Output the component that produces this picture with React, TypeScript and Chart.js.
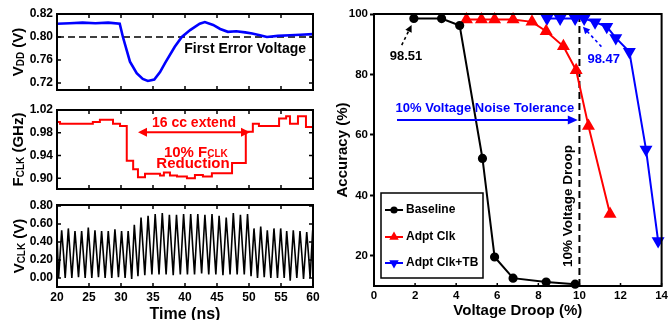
import React, { useEffect, useRef } from 'react';
import { Chart, registerables } from 'chart.js';
Chart.register(...registerables);

const W = 671;
const H = 320;
const FONT = '"Liberation Sans", Arial, Helvetica, sans-serif';
const BLUE = '#0000ff';
const RED = '#ff0000';
const BLACK = '#000000';

// ---------------- Left panel (time domain) ----------------
const timeTicks = [20, 25, 30, 35, 40, 45, 50, 55, 60];

// V_DD (V)
const vddTime = [20, 22, 24, 26, 28, 29.8, 30.3, 31.4, 32.45, 33.4, 34.2, 35.2, 36.1, 36.9, 38.4, 39.5, 40.8, 42.3, 43.1, 44.4, 45.5, 46.7, 48, 49.4, 50.5, 51.7, 52.8, 54.5, 56.4, 58, 60];
const vddVolt = [0.823, 0.824, 0.825, 0.824, 0.825, 0.823, 0.8, 0.757, 0.737, 0.727, 0.7235, 0.726, 0.739, 0.755, 0.783, 0.8, 0.812, 0.823, 0.826, 0.821, 0.814, 0.809, 0.81, 0.808, 0.806, 0.803, 0.8, 0.802, 0.803, 0.804, 0.805];
const firstErrorVoltage = 0.8;
const vddTickValues = [0.72, 0.76, 0.8, 0.84];
const vddTickLabels = ['0.72', '0.76', '0.80', '0.82'];

// F_CLK (GHz), step data
const fclkTime = [20, 20.47, 25.6, 26.7, 28.75, 29.85, 30.9, 31.9, 32.65, 33.75, 36.1, 36.7, 37.65, 38.75, 40.3, 41.55, 42.8, 44.2, 47.35, 49.5, 50.6, 51.55, 54.7, 55.8, 56.4, 57.65, 58.9, 59.7, 60];
const fclkGHz = [1.002, 0.999, 0.996, 0.999, 1.003, 0.996, 0.992, 0.931, 0.916, 0.902, 0.908, 0.905, 0.91, 0.905, 0.903, 0.9, 0.906, 0.903, 0.909, 0.927, 0.982, 0.996, 0.992, 1.005, 1.009, 0.996, 1.009, 0.99, 0.99];
const fclkTickValues = [0.9, 0.94, 0.98, 1.02];
const fclkTickLabels = ['0.90', '0.94', '0.98', '1.02'];

// V_CLK (V) waveform: peak / shoulder / trough per cycle
const vclkTime = [
  20.0, 20.25,
  20.73, 21.03, 21.28, 21.77, 22.07, 22.32, 22.81, 23.11, 23.36, 23.85, 24.15, 24.4,
  24.89, 25.19, 25.44, 25.93, 26.23, 26.48, 26.97, 27.27, 27.52, 28.01, 28.31, 28.56,
  29.05, 29.35, 29.6, 30.09, 30.39, 30.64, 31.12, 31.42, 31.67, 32.08, 32.38, 32.65,
  33.13, 33.45, 33.72, 34.23, 34.55, 34.83, 35.34, 35.66, 35.94, 36.45, 36.77, 37.05,
  37.56, 37.88, 38.16, 38.67, 38.99, 39.27, 39.78, 40.1, 40.38, 40.89, 41.21, 41.49,
  42.0, 42.32, 42.6, 43.11, 43.43, 43.71, 44.22, 44.54, 44.82, 45.33, 45.65, 45.93,
  46.44, 46.76, 47.04, 47.55, 47.87, 48.15, 48.66, 48.98, 49.26, 49.77, 50.09, 50.32,
  50.78, 51.08, 51.33, 51.83, 52.13, 52.38, 52.86, 53.16, 53.41, 53.9, 54.2, 54.45,
  54.95, 55.25, 55.5, 55.89, 56.19, 56.44, 56.92, 57.22, 57.47, 57.97, 58.27, 58.52,
  59.02, 59.32, 59.55, 59.95, 60.0,
];
const vclkVolt = [
  0.47, 0.0,
  0.53, 0.26, 0.0, 0.55, 0.25, 0.0, 0.52, 0.25, 0.01, 0.52, 0.24, 0.0,
  0.56, 0.26, 0.0, 0.53, 0.25, 0.01, 0.52, 0.24, 0.0, 0.52, 0.25, 0.0,
  0.54, 0.26, 0.01, 0.52, 0.24, 0.0, 0.52, 0.25, -0.01, 0.59, 0.29, 0.02,
  0.67, 0.33, 0.03, 0.69, 0.34, 0.04, 0.71, 0.35, 0.04, 0.72, 0.35, 0.04,
  0.7, 0.34, 0.03, 0.7, 0.35, 0.04, 0.71, 0.35, 0.04, 0.71, 0.34, 0.04,
  0.71, 0.35, 0.05, 0.7, 0.35, 0.04, 0.71, 0.34, 0.04, 0.69, 0.35, 0.03,
  0.67, 0.34, 0.04, 0.72, 0.35, 0.04, 0.7, 0.34, 0.04, 0.71, 0.33, 0.02,
  0.55, 0.26, 0.0, 0.57, 0.27, 0.01, 0.53, 0.25, 0.0, 0.55, 0.26, 0.0,
  0.55, 0.25, 0.0, 0.52, 0.24, -0.03, 0.53, 0.25, 0.0, 0.52, 0.25, -0.01,
  0.51, 0.24, 0.0, 0.53, 0.5,
];
const vclkTickValues = [0, 0.2, 0.4, 0.6, 0.8];
const vclkTickLabels = ['0.00', '0.20', '0.40', '0.60', '0.80'];

// ---------------- Right panel (accuracy) ----------------
const droopTicks = [0, 2, 4, 6, 8, 10, 12, 14];
const accuracyTicks = [20, 40, 60, 80, 100];
const baselineDroop = [1.94, 3.29, 4.17, 5.28, 5.87, 6.77, 8.38, 9.79];
const baselineAcc = [98.51, 98.5, 96.2, 52.2, 19.6, 12.6, 11.3, 10.6];
const adptClkDroop = [4.5, 5.23, 5.87, 6.77, 7.69, 8.38, 9.22, 9.84, 10.44, 11.49];
const adptClkAcc = [98.2, 98.2, 98.2, 98.2, 97.4, 94.3, 89.3, 81.4, 62.9, 33.8];
const adptTbDroop = [8.42, 9.06, 9.79, 10.23, 10.76, 11.33, 11.77, 12.43, 13.24, 13.83];
const adptTbAcc = [98.5, 98.5, 98.5, 98.47, 97.3, 95.8, 92.1, 87.5, 55.2, 24.9];
const droopLimit = 10;
const seriesNames = ['Baseline', 'Adpt Clk', 'Adpt Clk+TB'];

// ---------------- helpers ----------------
const xy = (xs: number[], ys: number[]) => xs.map((x, i) => ({ x, y: ys[i] }));
const bold = (size: number) => ({ family: FONT, size, weight: 'bold' as const });

function drawRich(ctx: CanvasRenderingContext2D, parts: [string, boolean][], cx: number, cy: number, size: number, subSize: number, color: string, rotate: boolean) {
  ctx.save();
  ctx.translate(cx, cy);
  if (rotate) ctx.rotate(-Math.PI / 2);
  const fMain = `bold ${size}px ${FONT}`;
  const fSub = `bold ${subSize}px ${FONT}`;
  let total = 0;
  const widths = parts.map(([t, sub]) => {
    ctx.font = sub ? fSub : fMain;
    const w = ctx.measureText(t).width;
    total += w;
    return w;
  });
  let x = -total / 2;
  ctx.fillStyle = color;
  ctx.textAlign = 'left';
  ctx.textBaseline = 'alphabetic';
  const base = size * 0.36;
  parts.forEach(([t, sub], i) => {
    ctx.font = sub ? fSub : fMain;
    ctx.fillText(t, x, sub ? base + 0.5 : base);
    x += widths[i];
  });
  ctx.restore();
}

function head(ctx: CanvasRenderingContext2D, x: number, y: number, ang: number, len: number, hw: number) {
  const c = Math.cos(ang), s = Math.sin(ang);
  ctx.beginPath();
  ctx.moveTo(x, y);
  ctx.lineTo(x - len * c + hw * s, y - len * s - hw * c);
  ctx.lineTo(x - len * c - hw * s, y - len * s + hw * c);
  ctx.closePath();
  ctx.fill();
}

function arrow(ctx: CanvasRenderingContext2D, x1: number, y1: number, x2: number, y2: number, color: string, lw: number, dash: number[], len: number, hw: number, both = false) {
  ctx.save();
  ctx.strokeStyle = color;
  ctx.fillStyle = color;
  ctx.lineWidth = lw;
  ctx.setLineDash(dash);
  const ang = Math.atan2(y2 - y1, x2 - x1);
  const c = Math.cos(ang), s = Math.sin(ang);
  ctx.beginPath();
  ctx.moveTo(both ? x1 + c * len * 0.8 : x1, both ? y1 + s * len * 0.8 : y1);
  ctx.lineTo(x2 - c * len * 0.8, y2 - s * len * 0.8);
  ctx.stroke();
  ctx.setLineDash([]);
  head(ctx, x2, y2, ang, len, hw);
  if (both) head(ctx, x1, y1, ang + Math.PI, len, hw);
  ctx.restore();
}

function text(ctx: CanvasRenderingContext2D, t: string, x: number, y: number, size: number, color: string, rotate = false) {
  ctx.save();
  ctx.translate(x, y);
  if (rotate) ctx.rotate(-Math.PI / 2);
  ctx.font = `bold ${size}px ${FONT}`;
  ctx.fillStyle = color;
  ctx.textAlign = 'center';
  ctx.textBaseline = 'middle';
  ctx.fillText(t, 0, 0);
  ctx.restore();
}

function frame(chart: any, inLen: number, inX: boolean, inY: boolean) {
  const { ctx, chartArea: ca, scales } = chart;
  ctx.save();
  ctx.strokeStyle = BLACK;
  ctx.lineWidth = 1.5;
  ctx.beginPath();
  if (inX) {
    scales.x.ticks.forEach((t: any) => {
      const p = scales.x.getPixelForValue(t.value);
      ctx.moveTo(p, ca.bottom); ctx.lineTo(p, ca.bottom - inLen);
      ctx.moveTo(p, ca.top); ctx.lineTo(p, ca.top + inLen);
    });
  }
  if (inY) {
    scales.y.ticks.forEach((t: any) => {
      const p = scales.y.getPixelForValue(t.value);
      ctx.moveTo(ca.left, p); ctx.lineTo(ca.left + inLen, p);
      ctx.moveTo(ca.right, p); ctx.lineTo(ca.right - inLen, p);
    });
  }
  ctx.stroke();
  ctx.lineWidth = 2;
  ctx.strokeRect(ca.left, ca.top, ca.right - ca.left, ca.bottom - ca.top);
  ctx.restore();
}

function yScale(min: number, max: number, values: number[], labels: string[], width: number) {
  return {
    type: 'linear', min, max,
    afterBuildTicks: (s: any) => { s.ticks = values.map((v) => ({ value: v })); },
    afterFit: (s: any) => { s.width = width; },
    grid: { display: false, drawTicks: false },
    border: { display: false },
    ticks: { color: BLACK, font: bold(12), padding: 4, callback: (_v: any, i: number) => labels[i] },
  };
}

function timeScale(showLabels: boolean, height: number) {
  return {
    type: 'linear', min: 20, max: 60,
    afterBuildTicks: (s: any) => { s.ticks = timeTicks.map((v) => ({ value: v })); },
    afterFit: (s: any) => { s.height = height; },
    grid: { display: false, drawTicks: false },
    border: { display: false },
    ticks: { display: showLabels, color: BLACK, font: bold(12), padding: 3, callback: (v: any) => String(v) },
  };
}

function baseOptions(padding: any, scales: any) {
  return {
    responsive: false,
    animation: false,
    devicePixelRatio: 1,
    events: [],
    layout: { padding },
    plugins: { legend: { display: false }, tooltip: { enabled: false }, title: { display: false } },
    elements: { point: { radius: 0 }, line: { tension: 0 } },
    scales,
  };
}

// ---------------- chart configs ----------------
function vddConfig(): any {
  return {
    type: 'line',
    data: {
      datasets: [
        { data: xy(vddTime, vddVolt), borderColor: BLUE, borderWidth: 2.6, pointRadius: 0 },
        { data: xy([20, 60], [firstErrorVoltage, firstErrorVoltage]), borderColor: BLACK, borderWidth: 1.6, borderDash: [7, 4], pointRadius: 0 },
      ],
    },
    options: baseOptions({ left: 17, right: 358, top: 14, bottom: 230 }, {
      x: timeScale(false, 0),
      y: yScale(0.7078, 0.84, vddTickValues, vddTickLabels, 40),
    }),
    plugins: [{
      id: 'deco',
      afterDraw(chart: any) {
        const { ctx, chartArea: ca, scales: { x, y } } = chart;
        frame(chart, 4, true, true);
        drawRich(ctx, [['V', false], ['DD', true], [' (V)', false]], ca.left - 39, (ca.top + ca.bottom) / 2, 15, 10, BLACK, true);
        text(ctx, 'First Error Voltage', x.getPixelForValue(49.4), y.getPixelForValue(0.779), 14, BLACK);
      },
    }],
  };
}

function fclkConfig(): any {
  return {
    type: 'line',
    data: {
      datasets: [
        { data: xy(fclkTime, fclkGHz), borderColor: RED, borderWidth: 2, stepped: 'after', pointRadius: 0 },
      ],
    },
    options: baseOptions({ left: 17, right: 358, top: 110, bottom: 131 }, {
      x: timeScale(false, 0),
      y: yScale(0.8812, 1.02, fclkTickValues, fclkTickLabels, 40),
    }),
    plugins: [{
      id: 'deco',
      afterDraw(chart: any) {
        const { ctx, chartArea: ca, scales: { x, y } } = chart;
        frame(chart, 4, true, true);
        drawRich(ctx, [['F', false], ['CLK', true], [' (GHz)', false]], ca.left - 39, (ca.top + ca.bottom) / 2, 15, 10, BLACK, true);
        text(ctx, '16 cc extend', x.getPixelForValue(41.4), y.getPixelForValue(0.997), 14, RED);
        arrow(ctx, x.getPixelForValue(32.66), y.getPixelForValue(0.981), x.getPixelForValue(50.16), y.getPixelForValue(0.981), RED, 2, [], 9, 4.5, true);
        drawRich(ctx, [['10% F', false], ['CLK', true]], x.getPixelForValue(41.7), y.getPixelForValue(0.947), 15, 10, RED, false);
        text(ctx, 'Reduction', x.getPixelForValue(41.25), y.getPixelForValue(0.925), 15, RED);
      },
    }],
  };
}

function vclkConfig(): any {
  return {
    type: 'line',
    data: {
      datasets: [
        { data: xy(vclkTime, vclkVolt), borderColor: BLACK, borderWidth: 1.6, pointRadius: 0 },
      ],
    },
    options: baseOptions({ left: 17, right: 358, top: 205, bottom: 13 }, {
      x: timeScale(true, 20),
      y: yScale(-0.1, 0.81, vclkTickValues, vclkTickLabels, 40),
    }),
    plugins: [{
      id: 'deco',
      afterDraw(chart: any) {
        const { ctx, chartArea: ca } = chart;
        frame(chart, 4, true, true);
        drawRich(ctx, [['V', false], ['CLK', true], [' (V)', false]], ca.left - 38, (ca.top + ca.bottom) / 2, 15, 10, BLACK, true);
        text(ctx, 'Time (ns)', (ca.left + ca.right) / 2, 315, 16, BLACK);
      },
    }],
  };
}

function accConfig(): any {
  return {
    type: 'line',
    data: {
      datasets: [
        { label: seriesNames[0], data: xy(baselineDroop, baselineAcc), borderColor: BLACK, backgroundColor: BLACK, borderWidth: 2, pointStyle: 'circle', pointRadius: 3.6, clip: false },
        { label: seriesNames[1], data: xy(adptClkDroop, adptClkAcc), borderColor: RED, backgroundColor: RED, borderWidth: 2, pointStyle: 'triangle', pointRadius: 5.5, clip: false },
        { label: seriesNames[2], data: xy(adptTbDroop, adptTbAcc), borderColor: BLUE, backgroundColor: BLUE, borderWidth: 2, pointStyle: 'triangle', pointRotation: 180, pointRadius: 5.5, clip: false },
        { label: 'limit', data: xy([droopLimit, droopLimit], [10, 100]), borderColor: BLACK, borderWidth: 2, borderDash: [7, 4], pointRadius: 0 },
      ],
    },
    options: baseOptions({ left: 334, right: 9, top: 14, bottom: 0 }, {
      x: {
        type: 'linear', min: 0, max: 14,
        afterBuildTicks: (s: any) => { s.ticks = droopTicks.map((v) => ({ value: v })); },
        afterFit: (s: any) => { s.height = 34; },
        grid: { display: false, drawTicks: false },
        border: { display: false },
        ticks: { color: BLACK, font: bold(11.5), padding: 3, callback: (v: any) => String(v) },
        title: { display: true, text: 'Voltage Droop (%)', color: BLACK, font: bold(15), padding: 0 },
      },
      y: {
        type: 'linear', min: 10, max: 100,
        afterBuildTicks: (s: any) => { s.ticks = accuracyTicks.map((v) => ({ value: v })); },
        afterFit: (s: any) => { s.width = 40; },
        grid: { display: true, drawOnChartArea: false, drawTicks: true, tickLength: 4, tickWidth: 2, tickColor: BLACK, color: BLACK },
        border: { display: false },
        ticks: { color: BLACK, font: bold(11.5), padding: 2, callback: (v: any) => String(v) },
        title: { display: true, text: 'Accuracy (%)', color: BLACK, font: bold(15), padding: 0 },
      },
    }),
    plugins: [{
      id: 'deco',
      afterDraw(chart: any) {
        const { ctx, chartArea: ca, scales: { x, y } } = chart;
        ctx.save();
        ctx.strokeStyle = BLACK;
        ctx.lineWidth = 1.5;
        ctx.beginPath();
        x.ticks.forEach((t: any) => {
          const p = x.getPixelForValue(t.value);
          ctx.moveTo(p, ca.bottom); ctx.lineTo(p, ca.bottom - 3);
        });
        ctx.stroke();
        ctx.restore();
        frame(chart, 0, false, false);

        text(ctx, '98.51', x.getPixelForValue(1.56), y.getPixelForValue(85.8), 13, BLACK);
        arrow(ctx, x.getPixelForValue(1.35), y.getPixelForValue(89.7), x.getPixelForValue(1.83), y.getPixelForValue(96.4), BLACK, 1.6, [3, 3], 7, 3.5);
        text(ctx, '98.47', x.getPixelForValue(11.18), y.getPixelForValue(85.1), 13, BLUE);
        arrow(ctx, x.getPixelForValue(11.07), y.getPixelForValue(89.2), x.getPixelForValue(10.17), y.getPixelForValue(95.8), BLUE, 1.6, [3, 3], 7, 3.5);
        text(ctx, '10% Voltage Noise Tolerance', x.getPixelForValue(5.4), y.getPixelForValue(68.9), 13, BLUE);
        arrow(ctx, x.getPixelForValue(1.12), y.getPixelForValue(64.9), x.getPixelForValue(9.92), y.getPixelForValue(64.9), BLUE, 2, [], 10, 4.5);
        text(ctx, '10% Voltage Droop', x.getPixelForValue(9.48), y.getPixelForValue(36.5), 13.5, BLACK, true);

        const lx = ca.left + 7, ly = ca.bottom - 93, lw = 102, lh = 85;
        ctx.save();
        ctx.fillStyle = '#ffffff';
        ctx.fillRect(lx, ly, lw, lh);
        ctx.strokeStyle = BLACK;
        ctx.lineWidth = 1.5;
        ctx.strokeRect(lx, ly, lw, lh);
        const rows = [17, 44, 70];
        const cols = [BLACK, RED, BLUE];
        rows.forEach((dy, i) => {
          const yy = ly + dy;
          ctx.strokeStyle = cols[i];
          ctx.fillStyle = cols[i];
          ctx.lineWidth = 2;
          ctx.beginPath();
          ctx.moveTo(lx + 4, yy); ctx.lineTo(lx + 22, yy);
          ctx.stroke();
          const mx = lx + 13;
          ctx.beginPath();
          if (i === 0) {
            ctx.arc(mx, yy, 3.6, 0, Math.PI * 2);
          } else {
            const r = 5.5;
            const sgn = i === 1 ? 1 : -1;
            for (let k = 0; k < 3; k++) {
              const a = (k * 2 * Math.PI) / 3;
              const px = mx + Math.sin(a) * r;
              const py = yy - sgn * Math.cos(a) * r;
              if (k === 0) ctx.moveTo(px, py); else ctx.lineTo(px, py);
            }
            ctx.closePath();
          }
          ctx.fill();
          ctx.font = `bold 12px ${FONT}`;
          ctx.fillStyle = BLACK;
          ctx.textAlign = 'left';
          ctx.textBaseline = 'middle';
          ctx.fillText(seriesNames[i], lx + 25, yy);
        });
        ctx.restore();
      },
    }],
  };
}

export default function App() {
  const r1 = useRef<HTMLCanvasElement>(null);
  const r2 = useRef<HTMLCanvasElement>(null);
  const r3 = useRef<HTMLCanvasElement>(null);
  const r4 = useRef<HTMLCanvasElement>(null);

  useEffect(() => {
    document.body.style.margin = '0';
    const charts = [
      new Chart(r1.current as HTMLCanvasElement, vddConfig()),
      new Chart(r2.current as HTMLCanvasElement, fclkConfig()),
      new Chart(r3.current as HTMLCanvasElement, vclkConfig()),
      new Chart(r4.current as HTMLCanvasElement, accConfig()),
    ];
    return () => charts.forEach((c) => c.destroy());
  }, []);

  const cs: React.CSSProperties = { position: 'absolute', left: 0, top: 0, width: W, height: H };
  return (
    <div style={{ position: 'relative', width: W, height: H, background: '#ffffff', overflow: 'hidden' }}>
      <canvas ref={r1} width={W} height={H} style={cs} />
      <canvas ref={r2} width={W} height={H} style={cs} />
      <canvas ref={r3} width={W} height={H} style={cs} />
      <canvas ref={r4} width={W} height={H} style={cs} />
    </div>
  );
}
